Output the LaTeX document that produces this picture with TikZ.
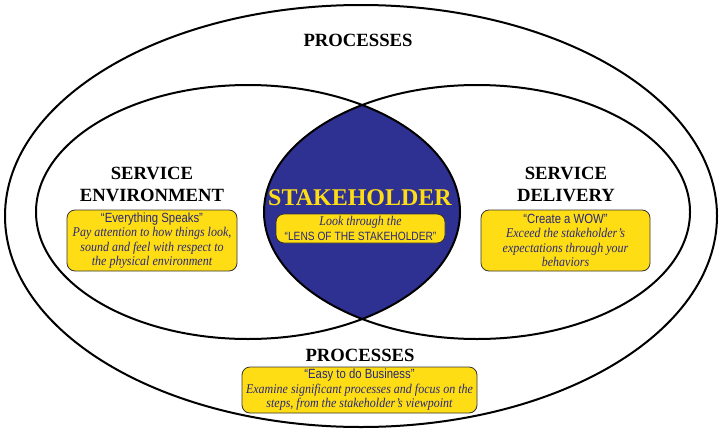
\documentclass[tikz,border=0pt]{standalone}
\usepackage{fontspec}
\setmainfont{Liberation Serif}
\newfontfamily\quotefont[FakeStretch=0.85]{Liberation Sans}
\newfontfamily\noteitfont[FakeStretch=0.9]{Liberation Serif}
\usepackage{tikz}
\definecolor{lensblue}{RGB}{46,49,146}
\definecolor{noteyellow}{RGB}{255,221,21}
\definecolor{notetext}{RGB}{40,40,120}

\begin{document}
\begin{tikzpicture}[x=0.75pt,y=0.75pt,yscale=-1,xscale=1,
  ring/.style={line width=1.5pt,draw=black},
  heading/.style={font=\fontsize{14}{16.5}\selectfont\bfseries,align=center,inner sep=0.75pt},
  notebox/.style={draw=black!80,line width=0.6pt,fill=noteyellow,rounded corners=6pt,
    align=center,inner sep=0pt,text=notetext,font=\fontsize{10}{10.9}\selectfont}]
\useasboundingbox (0,0) rectangle (720,432);

%Lens between the two inner ellipses
\begin{scope}
\clip (248,212) ellipse [x radius=212,y radius=127];
\fill [lensblue] (477,212) ellipse [x radius=213,y radius=127];
\end{scope}

%Ellipses
\draw [ring] (361,216) ellipse [x radius=356,y radius=211];
\draw [ring] (248,212) ellipse [x radius=212,y radius=127];
\draw [ring] (477,212) ellipse [x radius=213,y radius=127];

% Text Node
\node (procTop) [heading] at (358,40) {PROCESSES};
% Text Node
\node (envHead) [heading] at (152,184) {SERVICE\\ENVIRONMENT};
% Text Node
\node (delHead) [heading] at (566,184) {SERVICE\\DELIVERY};
% Text Node
\node (stakeHead) [heading,font=\fontsize{18}{20}\selectfont\bfseries,text=noteyellow] at (360,198) {STAKEHOLDER};
% Text Node
\node (procBot) [heading] at (360,355) {PROCESSES};

% Notes
\node (envNote) [notebox,minimum width=170*0.75pt,minimum height=61*0.75pt] at (152,240.5)
  {{\quotefont “Everything Speaks”}\\ \noteitfont\itshape Pay attention to how things look,\\ \noteitfont\itshape sound and feel with respect to\\ \noteitfont\itshape the physical environment};
\node (lensNote) [notebox,minimum width=169*0.75pt,minimum height=29*0.75pt] at (360.5,228.5)
  {{\noteitfont\itshape Look through the}\\ \fontsize{9}{10.9}\quotefont “LENS OF THE STAKEHOLDER”};
\node (delNote) [notebox,minimum width=169*0.75pt,minimum height=61*0.75pt] at (565.5,240.5)
  {{\quotefont “Create a WOW”}\\ \noteitfont\itshape Exceed the stakeholder’s\\ \noteitfont\itshape expectations through your\\ \noteitfont\itshape behaviors};
\node (procNote) [notebox,minimum width=235*0.75pt,minimum height=46*0.75pt] at (359.5,390)
  {{\quotefont “Easy to do Business”}\\ \noteitfont\itshape Examine significant processes and focus on the\\ \noteitfont\itshape steps, from the stakeholder’s viewpoint};

\end{tikzpicture}
\end{document}
